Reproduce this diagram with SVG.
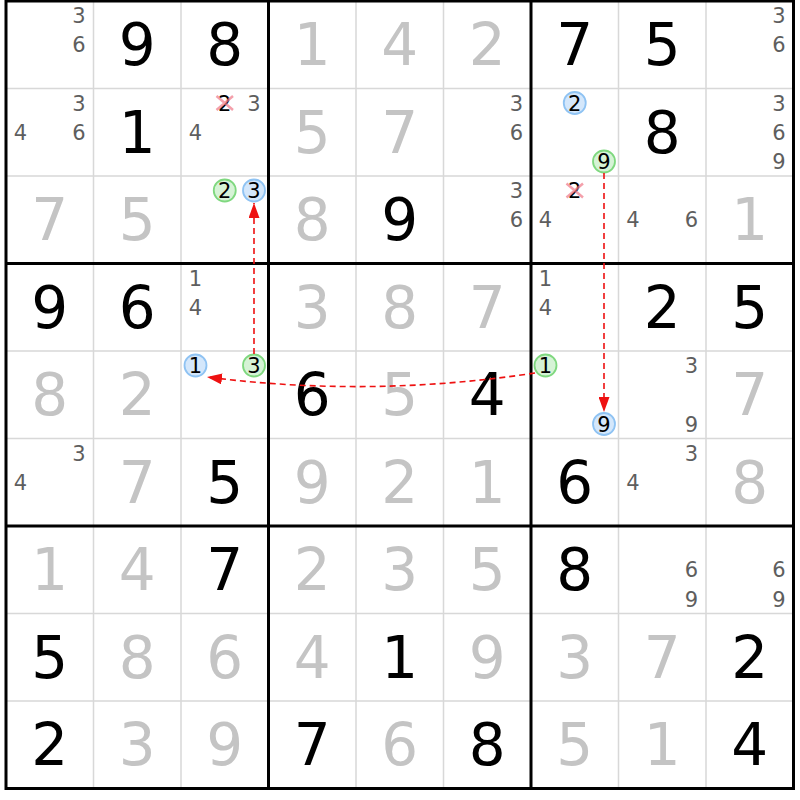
<svg xmlns="http://www.w3.org/2000/svg" width="800" height="800" viewBox="0 0 800 800">
<style>
text{font-family:"DejaVu Sans","Liberation Sans",sans-serif;text-anchor:middle}
.g{font-size:58px;fill:#000}
.s{font-size:58px;fill:#c4c4c4}
.c{font-size:21px;fill:#5e5e5e}
.k{font-size:21px;fill:#000}
.thin{stroke:#d8d8d8;stroke-width:1.5}
.thick{stroke:#000;stroke-width:3}
.cg{fill:#d6f3d6;stroke:#7fd87f;stroke-width:1.8}
.cb{fill:#d4e7fb;stroke:#8fc3f3;stroke-width:1.8}
.x{stroke:#f07888;stroke-width:2.5;opacity:0.7}
.lk{fill:none;stroke:#ee1111;stroke-width:1.6;stroke-dasharray:6,4}
</style>
<defs>
<marker id="ah" markerUnits="userSpaceOnUse" markerWidth="15" markerHeight="11" viewBox="0 0 15 11" refX="15" refY="5.5" orient="auto"><path d="M0,0 L15,5.5 L0,11 z" fill="#ee1111"/></marker>
</defs>
<rect x="0" y="0" width="800" height="800" fill="#fff"/>
<g id="grid">
<path class="thin" d="M93.5,1V788.5M181,1V788.5M356,1V788.5M443.5,1V788.5M618.5,1V788.5M706,1V788.5M6,88.5H793.5M6,176H793.5M6,351H793.5M6,438.5H793.5M6,613.5H793.5M6,701H793.5"/>
<path class="thick" d="M268.5,1V788.5M531,1V788.5M6,263.5H793.5M6,526H793.5"/>
<rect x="6" y="1" width="787.5" height="787.5" fill="none" stroke="#000" stroke-width="3"/>
</g>
<g id="row1">
<g id="r1c1"><text class="c" x="79" y="23">3</text><text class="c" x="79" y="52.2">6</text></g>
<g id="r1c2"><text class="g" x="137.25" y="65">9</text></g>
<g id="r1c3"><text class="g" x="224.75" y="65">8</text></g>
<g id="r1c4"><text class="s" x="312.25" y="65">1</text></g>
<g id="r1c5"><text class="s" x="399.75" y="65">4</text></g>
<g id="r1c6"><text class="s" x="487.25" y="65">2</text></g>
<g id="r1c7"><text class="g" x="574.75" y="65">7</text></g>
<g id="r1c8"><text class="g" x="662.25" y="65">5</text></g>
<g id="r1c9"><text class="c" x="779" y="23">3</text><text class="c" x="779" y="52.2">6</text></g>
</g>
<g id="row2">
<g id="r2c1"><text class="c" x="79" y="110.5">3</text><text class="c" x="20.5" y="139.7">4</text><text class="c" x="79" y="139.7">6</text></g>
<g id="r2c2"><text class="g" x="137.25" y="152.5">1</text></g>
<g id="r2c3"><text class="k" x="224.75" y="110.5">2</text><path class="x" d="M216.5,96L233,110M233,96L216.5,110"/><text class="c" x="254" y="110.5">3</text><text class="c" x="195.5" y="139.7">4</text></g>
<g id="r2c4"><text class="s" x="312.25" y="152.5">5</text></g>
<g id="r2c5"><text class="s" x="399.75" y="152.5">7</text></g>
<g id="r2c6"><text class="c" x="516.5" y="110.5">3</text><text class="c" x="516.5" y="139.7">6</text></g>
<g id="r2c7"><circle class="cb" cx="574.75" cy="103" r="11"/><text class="k" x="574.75" y="110.5">2</text><circle class="cg" cx="604" cy="161.5" r="11"/><text class="k" x="604" y="169">9</text></g>
<g id="r2c8"><text class="g" x="662.25" y="152.5">8</text></g>
<g id="r2c9"><text class="c" x="779" y="110.5">3</text><text class="c" x="779" y="139.7">6</text><text class="c" x="779" y="169">9</text></g>
</g>
<g id="row3">
<g id="r3c1"><text class="s" x="49.75" y="240">7</text></g>
<g id="r3c2"><text class="s" x="137.25" y="240">5</text></g>
<g id="r3c3"><circle class="cg" cx="224.75" cy="190.5" r="11"/><text class="k" x="224.75" y="198">2</text><circle class="cb" cx="254" cy="190.5" r="11"/><text class="k" x="254" y="198">3</text></g>
<g id="r3c4"><text class="s" x="312.25" y="240">8</text></g>
<g id="r3c5"><text class="g" x="399.75" y="240">9</text></g>
<g id="r3c6"><text class="c" x="516.5" y="198">3</text><text class="c" x="516.5" y="227.2">6</text></g>
<g id="r3c7"><text class="k" x="574.75" y="198">2</text><path class="x" d="M566.5,183.5L583,197.5M583,183.5L566.5,197.5"/><text class="c" x="545.5" y="227.2">4</text></g>
<g id="r3c8"><text class="c" x="633" y="227.2">4</text><text class="c" x="691.5" y="227.2">6</text></g>
<g id="r3c9"><text class="s" x="749.75" y="240">1</text></g>
</g>
<g id="row4">
<g id="r4c1"><text class="g" x="49.75" y="327.5">9</text></g>
<g id="r4c2"><text class="g" x="137.25" y="327.5">6</text></g>
<g id="r4c3"><text class="c" x="195.5" y="285.5">1</text><text class="c" x="195.5" y="314.7">4</text></g>
<g id="r4c4"><text class="s" x="312.25" y="327.5">3</text></g>
<g id="r4c5"><text class="s" x="399.75" y="327.5">8</text></g>
<g id="r4c6"><text class="s" x="487.25" y="327.5">7</text></g>
<g id="r4c7"><text class="c" x="545.5" y="285.5">1</text><text class="c" x="545.5" y="314.7">4</text></g>
<g id="r4c8"><text class="g" x="662.25" y="327.5">2</text></g>
<g id="r4c9"><text class="g" x="749.75" y="327.5">5</text></g>
</g>
<g id="row5">
<g id="r5c1"><text class="s" x="49.75" y="415">8</text></g>
<g id="r5c2"><text class="s" x="137.25" y="415">2</text></g>
<g id="r5c3"><circle class="cb" cx="195.5" cy="365.5" r="11"/><text class="k" x="195.5" y="373">1</text><circle class="cg" cx="254" cy="365.5" r="11"/><text class="k" x="254" y="373">3</text></g>
<g id="r5c4"><text class="g" x="312.25" y="415">6</text></g>
<g id="r5c5"><text class="s" x="399.75" y="415">5</text></g>
<g id="r5c6"><text class="g" x="487.25" y="415">4</text></g>
<g id="r5c7"><circle class="cg" cx="545.5" cy="365.5" r="11"/><text class="k" x="545.5" y="373">1</text><circle class="cb" cx="604" cy="424" r="11"/><text class="k" x="604" y="431.5">9</text></g>
<g id="r5c8"><text class="c" x="691.5" y="373">3</text><text class="c" x="691.5" y="431.5">9</text></g>
<g id="r5c9"><text class="s" x="749.75" y="415">7</text></g>
</g>
<g id="row6">
<g id="r6c1"><text class="c" x="79" y="460.5">3</text><text class="c" x="20.5" y="489.7">4</text></g>
<g id="r6c2"><text class="s" x="137.25" y="502.5">7</text></g>
<g id="r6c3"><text class="g" x="224.75" y="502.5">5</text></g>
<g id="r6c4"><text class="s" x="312.25" y="502.5">9</text></g>
<g id="r6c5"><text class="s" x="399.75" y="502.5">2</text></g>
<g id="r6c6"><text class="s" x="487.25" y="502.5">1</text></g>
<g id="r6c7"><text class="g" x="574.75" y="502.5">6</text></g>
<g id="r6c8"><text class="c" x="691.5" y="460.5">3</text><text class="c" x="633" y="489.7">4</text></g>
<g id="r6c9"><text class="s" x="749.75" y="502.5">8</text></g>
</g>
<g id="row7">
<g id="r7c1"><text class="s" x="49.75" y="590">1</text></g>
<g id="r7c2"><text class="s" x="137.25" y="590">4</text></g>
<g id="r7c3"><text class="g" x="224.75" y="590">7</text></g>
<g id="r7c4"><text class="s" x="312.25" y="590">2</text></g>
<g id="r7c5"><text class="s" x="399.75" y="590">3</text></g>
<g id="r7c6"><text class="s" x="487.25" y="590">5</text></g>
<g id="r7c7"><text class="g" x="574.75" y="590">8</text></g>
<g id="r7c8"><text class="c" x="691.5" y="577.2">6</text><text class="c" x="691.5" y="606.5">9</text></g>
<g id="r7c9"><text class="c" x="779" y="577.2">6</text><text class="c" x="779" y="606.5">9</text></g>
</g>
<g id="row8">
<g id="r8c1"><text class="g" x="49.75" y="677.5">5</text></g>
<g id="r8c2"><text class="s" x="137.25" y="677.5">8</text></g>
<g id="r8c3"><text class="s" x="224.75" y="677.5">6</text></g>
<g id="r8c4"><text class="s" x="312.25" y="677.5">4</text></g>
<g id="r8c5"><text class="g" x="399.75" y="677.5">1</text></g>
<g id="r8c6"><text class="s" x="487.25" y="677.5">9</text></g>
<g id="r8c7"><text class="s" x="574.75" y="677.5">3</text></g>
<g id="r8c8"><text class="s" x="662.25" y="677.5">7</text></g>
<g id="r8c9"><text class="g" x="749.75" y="677.5">2</text></g>
</g>
<g id="row9">
<g id="r9c1"><text class="g" x="49.75" y="765">2</text></g>
<g id="r9c2"><text class="s" x="137.25" y="765">3</text></g>
<g id="r9c3"><text class="s" x="224.75" y="765">9</text></g>
<g id="r9c4"><text class="g" x="312.25" y="765">7</text></g>
<g id="r9c5"><text class="s" x="399.75" y="765">6</text></g>
<g id="r9c6"><text class="g" x="487.25" y="765">8</text></g>
<g id="r9c7"><text class="s" x="574.75" y="765">5</text></g>
<g id="r9c8"><text class="s" x="662.25" y="765">1</text></g>
<g id="r9c9"><text class="g" x="749.75" y="765">4</text></g>
</g>
<g id="links">
<path class="lk" d="M254,354 V203" marker-end="url(#ah)"/>
<path class="lk" d="M604,173 V412" marker-end="url(#ah)"/>
<path class="lk" d="M535,373 Q370,398 207,377" marker-end="url(#ah)"/>
</g>
</svg>
